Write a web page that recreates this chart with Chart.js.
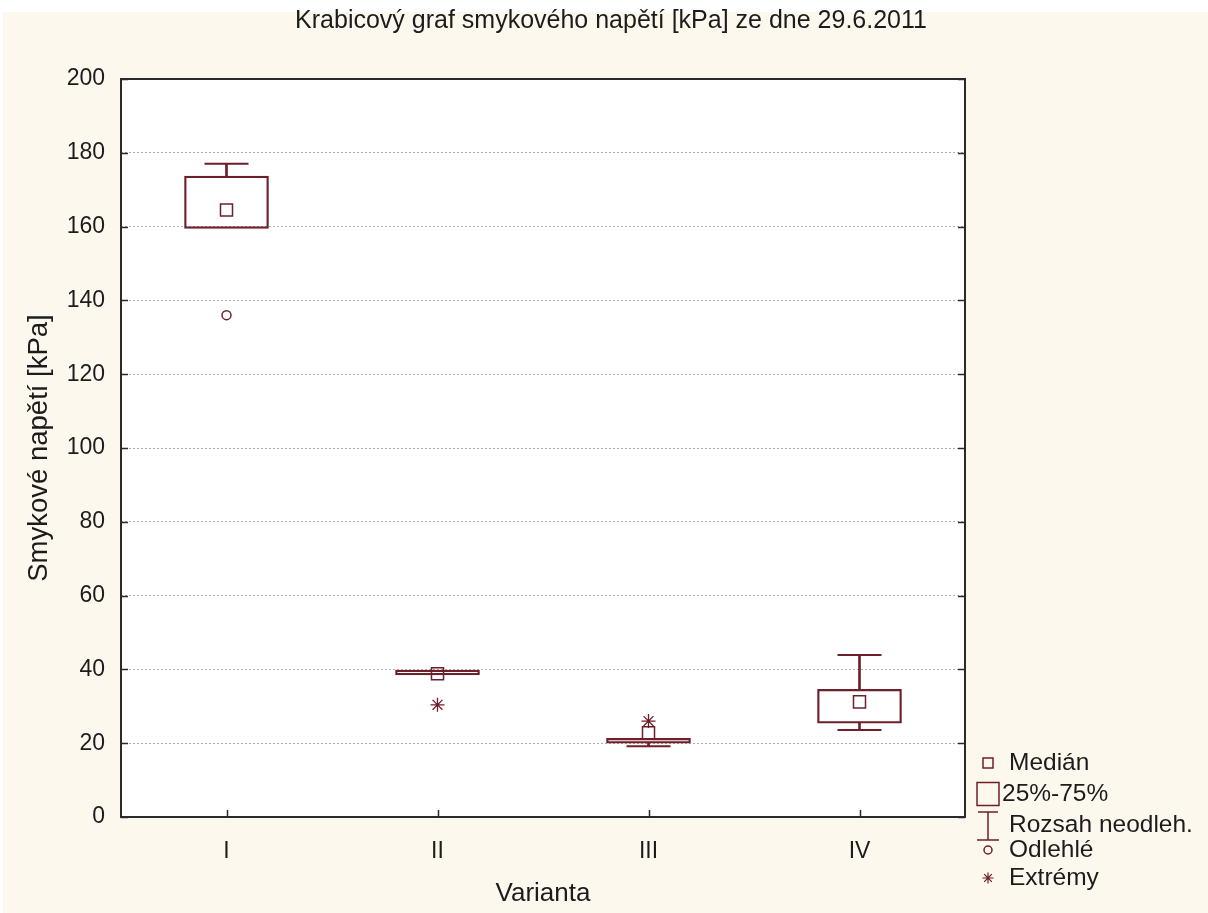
<!DOCTYPE html>
<html>
<head>
<meta charset="utf-8">
<script src="https://cdn.jsdelivr.net/npm/chart.js@4"></script>
<style>
  html, body { margin: 0; padding: 0; background: #fff; }
  #wrap { position: relative; width: 1208px; height: 913px; }
</style>
</head>
<body>
<div id="wrap"><canvas id="boxChart"></canvas></div>
<script>
/* Krabicový graf smykového napětí */
const varianty = ['I', 'II', 'III', 'IV'];
const median = [164.5, 38.8, 22.8, 31.2];
const q25 = [159.5, 38.5, 20.0, 25.4];
const q75 = [173.7, 39.8, 21.3, 34.6];
const rozsahMin = [null, null, 19.2, 23.6];
const rozsahMax = [177.0, null, null, 43.9];
const odlehle = [136.0, null, null, null];
const extremy = [null, 30.4, 26.0, null];
const yTicks = [0, 20, 40, 60, 80, 100, 120, 140, 160, 180, 200];
const legendLabels = ['Medián', '25%-75%', 'Rozsah neodleh.', 'Odlehlé', 'Extrémy'];

const FONT = "'Liberation Sans', Arial, sans-serif";
const CREAM = '#fcf8ed', INK = '#6e1f2a', FRAME = '#2a2a2a', TEXT = '#1c1c1c';

const kulisa = {
  id: 'kulisa',
  beforeDraw(chart) {
    const { ctx, width, height, chartArea: a } = chart;
    ctx.save();
    ctx.fillStyle = '#fff';
    ctx.fillRect(0, 0, width, height);
    ctx.fillStyle = CREAM;
    ctx.fillRect(3, 12, width - 3, height - 12);
    ctx.fillStyle = '#fff';
    ctx.fillRect(a.left, a.top, a.width, a.height);
    ctx.restore();
  },
  afterDraw(chart) {
    const { ctx, chartArea: a, scales } = chart;
    ctx.save();
    // rám a vnitřní značky os
    ctx.strokeStyle = FRAME;
    ctx.lineWidth = 2;
    ctx.strokeRect(a.left, a.top, a.width, a.height);
    ctx.lineWidth = 1.5;
    ctx.beginPath();
    yTicks.forEach((v) => {
      const y = Math.round(scales.y.getPixelForValue(v)) + 0.5;
      ctx.moveTo(a.left, y); ctx.lineTo(a.left + 7, y);
      ctx.moveTo(a.right - 7, y); ctx.lineTo(a.right, y);
    });
    varianty.forEach((v, i) => {
      const x = Math.round(scales.x.getPixelForValue(i)) + 0.5;
      ctx.moveTo(x, a.bottom); ctx.lineTo(x, a.bottom - 7);
    });
    ctx.stroke();

    // legenda
    const rows = [-54, -23, 8, 33, 61].map((d) => a.bottom + d);
    const ix = a.right + 23;
    ctx.strokeStyle = INK;
    ctx.lineWidth = 1.5;
    ctx.strokeRect(ix - 5, rows[0] - 5, 10, 10);
    ctx.strokeRect(ix - 11, rows[1] - 11.5, 22, 23);
    ctx.beginPath();
    ctx.moveTo(ix - 10, rows[2] - 13); ctx.lineTo(ix + 10, rows[2] - 13);
    ctx.moveTo(ix, rows[2] - 13); ctx.lineTo(ix, rows[2] + 15);
    ctx.moveTo(ix - 11, rows[2] + 15); ctx.lineTo(ix + 11, rows[2] + 15);
    ctx.stroke();
    ctx.beginPath();
    ctx.arc(ix, rows[3], 4, 0, Math.PI * 2);
    ctx.stroke();
    ctx.lineWidth = 1.2;
    ctx.beginPath();
    const r = 5.5;
    ctx.moveTo(ix - r, rows[4]); ctx.lineTo(ix + r, rows[4]);
    ctx.moveTo(ix, rows[4] - r); ctx.lineTo(ix, rows[4] + r);
    ctx.moveTo(ix - r * 0.7, rows[4] - r * 0.7); ctx.lineTo(ix + r * 0.7, rows[4] + r * 0.7);
    ctx.moveTo(ix - r * 0.7, rows[4] + r * 0.7); ctx.lineTo(ix + r * 0.7, rows[4] - r * 0.7);
    ctx.stroke();

    ctx.fillStyle = TEXT;
    ctx.font = '24.5px ' + FONT;
    ctx.textBaseline = 'middle';
    legendLabels.forEach((t, i) => {
      ctx.fillText(t, a.right + (i === 1 ? 37 : 44), rows[i]);
    });
    ctx.restore();
  },
};

const pointSet = (label, data, style, radius, width) => ({
  type: 'line', label, data, yAxisID: 'y', showLine: false,
  pointStyle: style, pointRadius: radius, pointBorderWidth: width,
  pointBorderColor: INK, pointBackgroundColor: 'rgba(0,0,0,0)',
});

const stem = (lo, hi) => lo.map((v, i) => (v == null || hi[i] == null ? null : [v, hi[i]]));

new Chart(document.getElementById('boxChart'), {
  type: 'bar',
  data: {
    labels: varianty,
    datasets: [
      pointSet('Medián', median, 'rect', 8.5, 1.5),
      pointSet('Odlehlé', odlehle, 'circle', 4.5, 1.5),
      pointSet('Extrémy', extremy, 'star', 7, 1.3),
      pointSet('Horní', rozsahMax, 'line', 22, 2),
      pointSet('Dolní', rozsahMin, 'line', 22, 2),
      { label: 'stem+', data: stem(q75, rozsahMax), yAxisID: 'y', grouped: false, barThickness: 2, backgroundColor: INK, borderWidth: 0 },
      { label: 'stem-', data: stem(rozsahMin, q25), yAxisID: 'y', grouped: false, barThickness: 2, backgroundColor: INK, borderWidth: 0 },
      { label: '25%-75%', data: stem(q25, q75), yAxisID: 'y', grouped: false, barThickness: 84, backgroundColor: 'rgba(0,0,0,0)', borderColor: INK, borderWidth: 1.6, borderSkipped: false },
    ],
  },
  options: {
    responsive: true,
    maintainAspectRatio: false,
    animation: false,
    events: [],
    layout: { padding: { left: 14, top: 0, right: 0, bottom: 0 } },
    plugins: {
      legend: { display: false },
      tooltip: { enabled: false },
      title: {
        display: true,
        text: 'Krabicový graf smykového napětí [kPa] ze dne 29.6.2011',
        color: TEXT,
        font: { family: FONT, size: 25, weight: 'normal' },
        padding: { top: 6, bottom: 43 },
      },
    },
    scales: {
      x: {
        grid: { display: false },
        border: { display: false },
        ticks: { color: TEXT, padding: 13, font: { family: FONT, size: 23 } },
        title: { display: true, text: 'Varianta', color: TEXT, font: { family: FONT, size: 26 }, padding: { top: 0, bottom: 3.4 } },
        afterFit: (s) => { s.height = 96; },
      },
      y: {
        position: 'left',
        min: 0,
        max: 200,
        afterBuildTicks: (s) => { s.ticks = yTicks.map((v) => ({ value: v })); },
        grid: { color: '#adadad', lineWidth: 1, drawTicks: false },
        border: { display: false, dash: [2, 2] },
        ticks: { color: TEXT, padding: 16, font: { family: FONT, size: 23 } },
        title: { display: true, text: 'Smykové napětí [kPa]', color: TEXT, font: { family: FONT, size: 27.5 }, padding: { top: 9, bottom: 0 } },
        afterFit: (s) => { s.width = 107; },
      },
      y2: {
        position: 'right',
        ticks: { display: false },
        grid: { display: false },
        border: { display: false },
        afterFit: (s) => { s.width = 243; },
      },
    },
  },
  plugins: [kulisa],
});
</script>
</body>
</html>
